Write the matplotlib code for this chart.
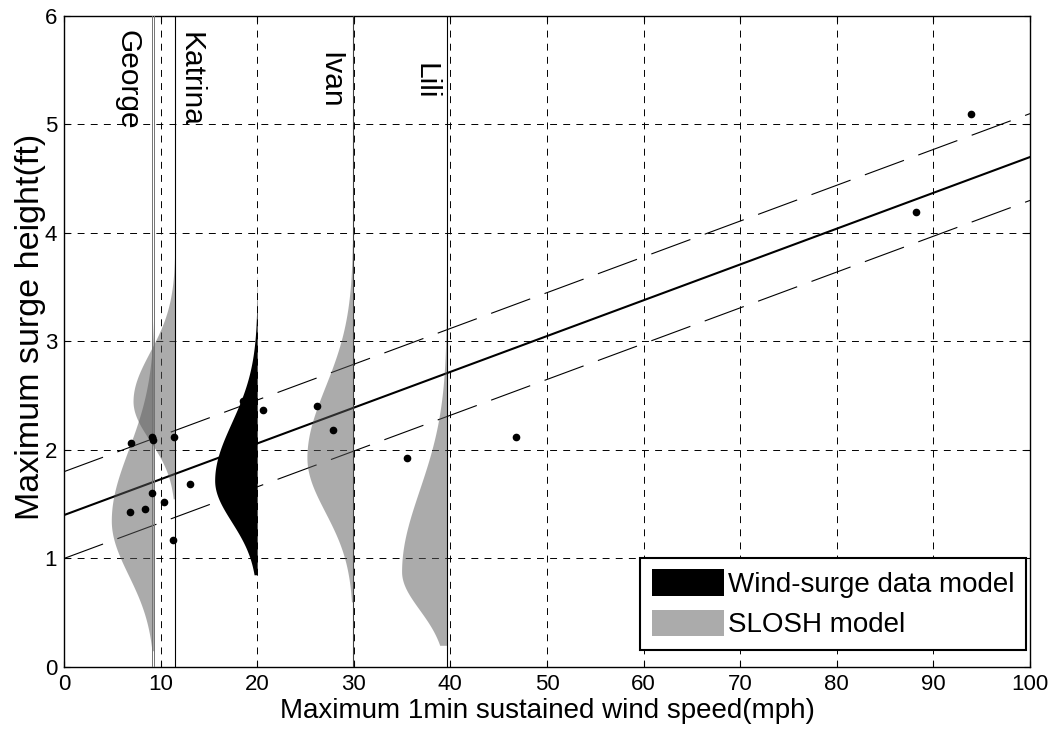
import numpy as np
import matplotlib.pyplot as plt
from matplotlib.patches import Patch

plt.rcParams['font.family'] = ['Liberation Sans', 'DejaVu Sans']

# observed wind / surge pairs
wind = [6.8, 8.4, 9.1, 10.4, 11.3, 6.9, 9.1, 9.2, 11.4, 13.0,
        18.5, 20.6, 26.2, 27.9, 35.5, 46.8, 88.2, 93.9]
surge = [1.43, 1.46, 1.60, 1.52, 1.17, 2.06, 2.12, 2.09, 2.12, 1.69,
         2.45, 2.37, 2.41, 2.18, 1.93, 2.12, 4.19, 5.10]

# regression line and its band, read at x=0 and x=100
fit_x = [0, 100]
fit_mid = [1.4, 4.7]
fit_up = [1.8, 5.1]
fit_low = [1.0, 4.3]

# SLOSH model per storm (half profiles hanging left of each storm line)
storms = ['George', 'Katrina', 'Ivan', 'Lili']
storm_wind = [9.35, 11.5, 29.9, 39.6]
slosh_mode = [1.35, 2.45, 1.93, 0.88]
slosh_sd_low = [0.50, 0.36, 0.50, 0.35]
slosh_sd_high = [0.65, 0.45, 0.65, 0.75]
slosh_width = [4.45, 4.35, 4.75, 4.65]
slosh_lo = [0.15, 1.55, 0.6, 0.2]
slosh_hi = [5.3, 4.0, 3.9, 3.6]

# wind-surge data model
ws_wind = 20.0
ws_mode = 1.72
ws_sd_low = 0.38
ws_sd_high = 0.53
ws_width = 4.4
ws_lo = 0.85
ws_hi = 3.6

label_x = [6.6, 13.1, 27.6, 37.4]
label_top = [5.87, 5.85, 5.67, 5.57]


def profile(mode, sd_low, sd_high, width, lo, hi):
    y = np.linspace(lo, hi, 400)
    sd = np.where(y < mode, sd_low, sd_high)
    w = width * np.exp(-0.5 * ((y - mode) / sd) ** 2)
    return y, w


def main():
    fig = plt.figure(figsize=(10.59, 7.30), dpi=100)
    ax = fig.add_axes([0.0604, 0.0863, 0.9122, 0.8918])

    grey = '0.35'
    grey_alpha = 0.5

    band_ls = (0, (37.5, 13.75))
    ax.plot(fit_x, fit_mid, color='k', lw=1.5, zorder=2)
    ax.plot(fit_x, fit_up, color='k', lw=0.8, ls=band_ls, zorder=2)
    ax.plot(fit_x, fit_low, color='k', lw=0.8, ls=band_ls, zorder=2)

    for i in range(len(storms)):
        y, w = profile(slosh_mode[i], slosh_sd_low[i], slosh_sd_high[i],
                       slosh_width[i], slosh_lo[i], slosh_hi[i])
        ax.fill_betweenx(y, storm_wind[i] - w, storm_wind[i],
                         color=grey, alpha=grey_alpha, lw=0, zorder=3)

    y, w = profile(ws_mode, ws_sd_low, ws_sd_high, ws_width, ws_lo, ws_hi)
    ax.fill_betweenx(y, ws_wind - w, ws_wind, color='k', lw=0, zorder=3)

    # storm lines: George is drawn as a thin double line
    ax.axvline(storm_wind[0] - 0.27, color='0.45', lw=0.7, zorder=4)
    ax.axvline(storm_wind[0], color='0.45', lw=0.7, zorder=4)
    ax.axvline(storm_wind[1], color='k', lw=0.8, zorder=4)
    ax.axvline(storm_wind[2], color='0.25', lw=0.8, zorder=4)
    ax.axvline(storm_wind[3], color='k', lw=0.8, zorder=4)

    for name, lx, ly in zip(storms, label_x, label_top):
        ax.text(lx, ly, name, rotation=-90, ha='center', va='top',
                fontsize=21.5, zorder=6)

    ax.plot(wind, surge, 'o', color='k', ms=4.5, zorder=5)

    ax.set_xlim(0, 100)
    ax.set_ylim(0, 6)
    ax.set_xticks(np.arange(0, 101, 10))
    ax.set_yticks(np.arange(0, 7, 1))
    ax.grid(True, color='k', ls=(0, (7.1, 6.4)), lw=0.7)
    ax.set_axisbelow(True)
    ax.tick_params(direction='in', length=4, labelsize=16, pad=5,
                   top=True, right=True)
    for s in ax.spines.values():
        s.set_linewidth(1.0)

    ax.set_xlabel('Maximum 1min sustained wind speed(mph)', fontsize=20,
                  labelpad=2)
    ax.set_ylabel('Maximum surge height(ft)', fontsize=24.5)
    ax.yaxis.set_label_coords(-0.019, 0.522)

    handles = [Patch(facecolor='k', edgecolor='none'),
               Patch(facecolor=grey, alpha=grey_alpha, edgecolor='none')]
    leg = ax.legend(handles, ['Wind-surge data model', 'SLOSH model'],
                    loc='lower right', bbox_to_anchor=(0.996, 0.026),
                    borderaxespad=0, fontsize=20, fancybox=False,
                    edgecolor='k', framealpha=1, handlelength=2.6,
                    handleheight=1.1, handletextpad=0.15, borderpad=0.42,
                    labelspacing=0.42)
    leg.get_frame().set_linewidth(1.5)
    leg.set_zorder(7)

    fig.savefig('out.png', dpi=100)


if __name__ == '__main__':
    main()
